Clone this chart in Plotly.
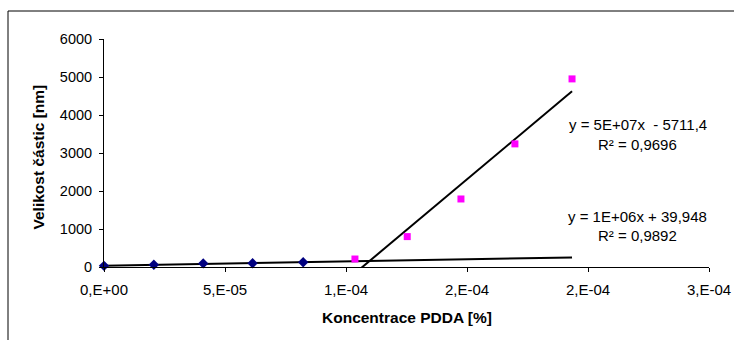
import numpy as np
import plotly.graph_objects as go

# Particle size vs PDDA concentration
low_conc = [0.0, 2.06e-5, 4.10e-5, 6.14e-5, 8.23e-5]
low_size = [30, 60, 95, 100, 125]

high_conc = [1.037e-4, 1.253e-4, 1.475e-4, 1.698e-4, 1.934e-4]
high_size = [210, 800, 1790, 3240, 4950]

x_tickvals = [0, 5e-5, 1e-4, 1.5e-4, 2e-4, 2.5e-4]
x_ticktext = ["0,E+00", "5,E-05", "1,E-04", "2,E-04", "2,E-04", "3,E-04"]
y_tickvals = [0, 1000, 2000, 3000, 4000, 5000, 6000]

eq_low = ["y = 1E+06x + 39,948", "R² = 0,9892"]
eq_high = ["y = 5E+07x  - 5711,4", "R² = 0,9696"]

# linear trendlines
k_low, q_low = np.polyfit(low_conc, low_size, 1)
k_high, q_high = np.polyfit(high_conc, high_size, 1)
low_line_x = np.array([min(low_conc), max(high_conc)])
high_line_x = np.array([min(high_conc), max(high_conc)])

FONT = "Liberation Sans, Arial, sans-serif"

L, R, T, B = 104, 25, 39, 73
W, H = 734, 340
pw, ph = W - L - R, H - T - B


def dx(px):
    return (px - L) / pw


def dy(py):
    return (H - B - py) / ph


fig = go.Figure()
fig.add_trace(go.Scatter(x=low_line_x, y=k_low * low_line_x + q_low, mode="lines",
                         line=dict(color="black", width=2), showlegend=False))
fig.add_trace(go.Scatter(x=high_line_x, y=k_high * high_line_x + q_high, mode="lines",
                         line=dict(color="black", width=2), showlegend=False))
fig.add_trace(go.Scatter(x=low_conc, y=low_size, mode="markers",
                         marker=dict(symbol="diamond", size=8, color="#000080",
                                     line=dict(width=0)),
                         showlegend=False, cliponaxis=False))
fig.add_trace(go.Scatter(x=high_conc, y=high_size, mode="markers",
                         marker=dict(symbol="square", size=7, color="#FF00FF",
                                     line=dict(width=0)),
                         showlegend=False, cliponaxis=False))

# trendline equations
for block, top in ((eq_high, 125), (eq_low, 216)):
    for i, txt in enumerate(block):
        fig.add_annotation(x=dx(637.5), y=dy(top + 19 * i), xref="x domain", yref="y domain",
                           xanchor="center", yanchor="middle",
                           text=txt, showarrow=False,
                           font=dict(size=15, color="black", family=FONT))

# axis titles
fig.add_annotation(x=dx(406.5), y=dy(317), xref="x domain", yref="y domain",
                   xanchor="center", yanchor="middle",
                   text="<b>Koncentrace PDDA [%]</b>", showarrow=False,
                   font=dict(size=15.5, color="black", family=FONT))
fig.add_annotation(x=dx(37.5), y=dy(157), xref="x domain", yref="y domain",
                   xanchor="center", yanchor="middle",
                   text="<b>Velikost částic [nm]</b>", showarrow=False, textangle=-90,
                   font=dict(size=15.5, color="black", family=FONT))

# chart frame
fig.add_shape(type="rect", xref="paper", yref="paper",
              x0=dx(8), x1=1.2, y0=-0.5, y1=dy(11),
              line=dict(color="black", width=1), fillcolor="rgba(0,0,0,0)")

axis_common = dict(showline=True, linecolor="black", linewidth=1, ticks="outside",
                   ticklen=4, tickcolor="black", showgrid=False, zeroline=False,
                   automargin=False)
fig.update_xaxes(range=[0, 2.5e-4], tickmode="array", tickvals=x_tickvals,
                 ticktext=x_ticktext, ticklabelstandoff=5,
                 tickfont=dict(size=15, color="black", family=FONT), **axis_common)
fig.update_yaxes(range=[0, 6000], tickmode="array", tickvals=y_tickvals,
                 ticktext=[str(v) for v in y_tickvals], ticklabelstandoff=4,
                 tickfont=dict(size=14.5, color="black", family=FONT), **axis_common)

fig.update_layout(width=W, height=H, margin=dict(l=L, r=R, t=T, b=B),
                  paper_bgcolor="white", plot_bgcolor="white",
                  font=dict(family=FONT, color="black"))

fig.write_html("out.html")
